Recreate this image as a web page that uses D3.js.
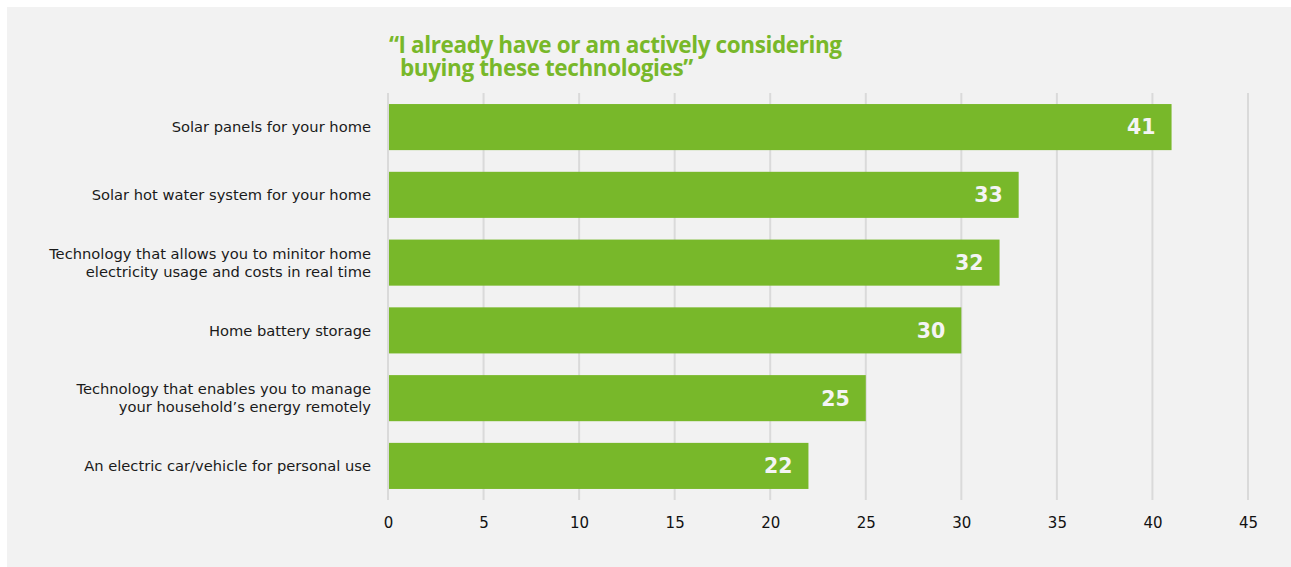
<!DOCTYPE html>
<html>
<head>
<meta charset="utf-8">
<script src="https://cdn.jsdelivr.net/npm/d3@7"></script>
<style>
  html, body { margin: 0; padding: 0; background: #ffffff; }
  svg { display: block; }
</style>
</head>
<body>
<svg id="chart" width="1291" height="567"></svg>
<script>
// Survey: share of respondents who already have or are considering each technology
const categories = [
  ["Solar panels for your home"],
  ["Solar hot water system for your home"],
  ["Technology that allows you to minitor home", "electricity usage and costs in real time"],
  ["Home battery storage"],
  ["Technology that enables you to manage", "your household\u2019s energy remotely"],
  ["An electric car/vehicle for personal use"]
];
const values = [41, 33, 32, 30, 25, 22];
const tickValues = [0, 5, 10, 15, 20, 25, 30, 35, 40, 45];
const titleLines = ["\u201CI already have or am actively considering", "buying these technologies\u201D"];

const svg = d3.select("#chart");
const W = 1291, H = 567;
const labelFont = "'DejaVu Sans', Verdana, sans-serif";

// panel background
svg.append("rect")
  .attr("x", 7).attr("y", 7)
  .attr("width", W - 7).attr("height", H - 7)
  .attr("fill", "#f2f2f2");

const x = d3.scaleLinear().domain([0, 45]).range([388, 1248]);
const y = d3.scaleBand()
  .domain(d3.range(values.length))
  .range([93.2, 499.8])
  .paddingInner(0.32)
  .paddingOuter(0.16);

// vertical grid lines
svg.append("g")
  .selectAll("line")
  .data(tickValues)
  .join("line")
  .attr("x1", d => x(d)).attr("x2", d => x(d))
  .attr("y1", 93).attr("y2", 500)
  .attr("stroke", "#dadada")
  .attr("stroke-width", 2);

// bars
svg.append("g")
  .selectAll("rect")
  .data(values)
  .join("rect")
  .attr("x", x(0) + 1)
  .attr("y", (d, i) => y(i))
  .attr("width", d => x(d) - x(0) - 1)
  .attr("height", y.bandwidth())
  .attr("fill", "#78b82a");

// value labels inside bar ends
svg.append("g")
  .selectAll("text")
  .data(values)
  .join("text")
  .attr("x", d => x(d) - 16)
  .attr("y", (d, i) => y(i) + y.bandwidth() / 2)
  .attr("dy", "0.36em")
  .attr("text-anchor", "end")
  .attr("font-family", labelFont)
  .attr("font-weight", 700)
  .attr("font-size", 20.5)
  .attr("fill", "#f4f4f4")
  .text(d => d);

// category labels
const catG = svg.append("g");
categories.forEach((lines, i) => {
  const cy = y(i) + y.bandwidth() / 2;
  const lh = 18;
  const t = catG.append("text")
    .attr("text-anchor", "end")
    .attr("font-family", labelFont)
    .attr("font-size", 14.7)
    .attr("fill", "#1a1a1a");
  lines.forEach((ln, j) => {
    t.append("tspan")
      .attr("x", 371)
      .attr("y", cy + (j - (lines.length - 1) / 2) * lh)
      .attr("dy", "0.36em")
      .text(ln);
  });
});

// x axis
const xAxis = d3.axisBottom(x).tickValues(tickValues).tickSize(0).tickPadding(0);
const axG = svg.append("g")
  .attr("transform", "translate(0,523)")
  .call(xAxis);
axG.select(".domain").remove();
axG.selectAll("text")
  .attr("font-family", labelFont)
  .attr("font-size", 15)
  .attr("fill", "#111111")
  .attr("dy", "0.36em");

// title
const titleAttrs = sel => sel
  .attr("font-family", "'Open Sans', sans-serif")
  .attr("font-weight", 700)
  .attr("font-size", 22.5)
  .attr("fill", "#78b82a")
  .attr("letter-spacing", -0.4);
svg.append("text").call(titleAttrs).attr("x", 389).attr("y", 53).text(titleLines[0]);
svg.append("text").call(titleAttrs).attr("x", 400).attr("y", 76).text(titleLines[1]);
</script>
</body>
</html>
